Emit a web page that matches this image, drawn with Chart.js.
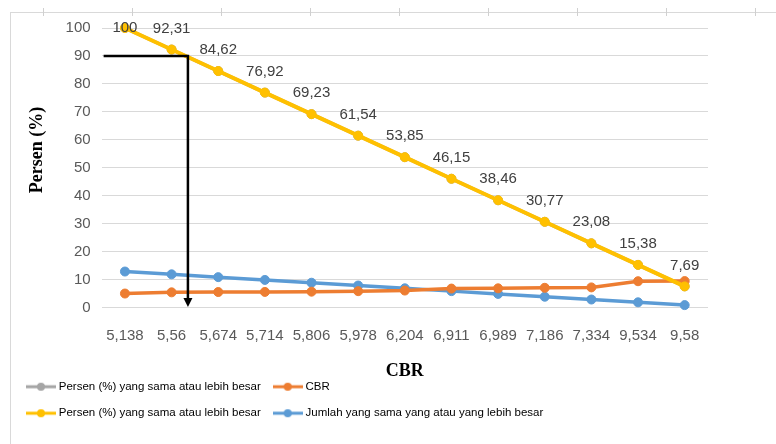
<!DOCTYPE html>
<html>
<head>
<meta charset="utf-8">
<script src="https://cdn.jsdelivr.net/npm/chart.js@4.4.1/dist/chart.umd.min.js"></script>
<style>
  html, body { margin: 0; padding: 0; background: #fff; }
  #wrap { position: relative; width: 776px; height: 444px; overflow: hidden; }
  /* faint frame of the original screenshot */
  #frame { position: absolute; left: 10px; top: 12px; right: 0; bottom: 0;
           border-top: 1px solid #d9d9d9; border-left: 1px solid #d9d9d9; }
  #ticks { position: absolute; left: 0; right: 0; top: 8px; height: 8px;
           background-image: linear-gradient(to right, #d0d0d0 0 1px, transparent 1px);
           background-size: 89px 100%; background-position: 43px 0; background-repeat: repeat-x; }
  canvas { position: absolute; left: 0; top: 0; }
</style>
</head>
<body>
<div id="wrap">
  <div id="frame"></div>
  <div id="ticks"></div>
  <canvas id="chart-cbr" width="776" height="444"></canvas>
</div>
<script>
// ---- Data ----
const cbrLabels = ['5,138','5,56','5,674','5,714','5,806','5,978','6,204','6,911','6,989','7,186','7,334','9,534','9,58'];
const cbrValues = [5.138, 5.56, 5.674, 5.714, 5.806, 5.978, 6.204, 6.911, 6.989, 7.186, 7.334, 9.534, 9.58];
const persenValues = [100, 92.31, 84.62, 76.92, 69.23, 61.54, 53.85, 46.15, 38.46, 30.77, 23.08, 15.38, 7.69];
const jumlahValues = [13, 12, 11, 10, 9, 8, 7, 6, 5, 4, 3, 2, 1];
const yMin = 0, yMax = 100, yStep = 10;

// the 90 % reading arrow (value on y, category position on x)
const arrowPersen = 90;
const arrowIndex = 1.35;

const LABEL_PERSEN = 'Persen (%) yang sama atau lebih besar';

// ---- Fonts / colours ----
const SANS = '"Liberation Sans", sans-serif';
const SERIF = '"Liberation Serif", "Times New Roman", serif';
const TEXT_GREY = '#595959';

Chart.defaults.font.family = SANS;
Chart.defaults.font.size = 15;
Chart.defaults.color = TEXT_GREY;

function legendMarker(color) {
  const c = document.createElement('canvas');
  c.width = 30; c.height = 10;
  const g = c.getContext('2d');
  g.strokeStyle = color; g.lineWidth = 3;
  g.beginPath(); g.moveTo(0, 5); g.lineTo(30, 5); g.stroke();
  g.fillStyle = color;
  g.beginPath(); g.arc(15, 5, 4, 0, Math.PI * 2); g.fill();
  return c;
}

// pad legend text with spaces so "CBR" pushes the next item to row two
function padTo(ctx, text, px) {
  let t = text;
  while (ctx.measureText(t).width < px) t += ' ';
  return t;
}

const LEGEND_FONT = { family: SANS, size: 11.5 };
const legendWidths = [0, 200, 0, 0];

const labelPlugin = {
  id: 'persen-labels',
  afterDatasetsDraw(chart) {
    const meta = chart.getDatasetMeta(2);
    const { ctx, chartArea } = chart;
    ctx.save();
    ctx.font = '15px ' + SANS;
    ctx.fillStyle = '#404040';
    ctx.textAlign = 'center';
    ctx.textBaseline = 'middle';
    meta.data.forEach((pt, i) => {
      const y = Math.max(pt.y - 21, chartArea.top);
      ctx.fillText(String(persenValues[i]).replace('.', ','), pt.x, y);
    });
    ctx.restore();
  }
};

const arrowPlugin = {
  id: 'arrow-90',
  afterDatasetsDraw(chart) {
    const { ctx, chartArea, scales: { x, y } } = chart;
    const ax = x.getPixelForValue(arrowIndex);
    const ay = y.getPixelForValue(arrowPersen);
    const y0 = y.getPixelForValue(yMin);
    ctx.save();
    ctx.strokeStyle = '#000';
    ctx.fillStyle = '#000';
    ctx.lineWidth = 2.5;
    ctx.beginPath();
    ctx.moveTo(chartArea.left + 2, ay);
    ctx.lineTo(ax, ay);
    ctx.lineTo(ax, y0 - 8);
    ctx.stroke();
    ctx.beginPath();
    ctx.moveTo(ax - 4.5, y0 - 10);
    ctx.lineTo(ax + 4.5, y0 - 10);
    ctx.lineTo(ax, y0 - 1);
    ctx.closePath();
    ctx.fill();
    ctx.restore();
  }
};

function line(label, data, color, width, order) {
  return {
    label, data, order,
    borderColor: color,
    backgroundColor: color,
    borderWidth: width,
    pointRadius: 4.5,
    pointBorderWidth: 1,
    pointBackgroundColor: color,
    pointBorderColor: color,
    tension: 0,
    clip: false,
  };
}

new Chart(document.getElementById('chart-cbr'), {
  type: 'line',
  data: {
    labels: cbrLabels,
    datasets: [
      line(LABEL_PERSEN, persenValues, '#A5A5A5', 3.5, 3),
      line('CBR', cbrValues, '#ED7D31', 3.5, 1),
      line(LABEL_PERSEN, persenValues, '#FFC000', 4, 0),
      line('Jumlah yang sama yang atau yang lebih besar', jumlahValues, '#5B9BD5', 3.5, 2),
    ]
  },
  options: {
    responsive: false,
    animation: false,
    layout: { padding: { left: 14, right: 68, top: 28, bottom: 15 } },
    plugins: {
      tooltip: { enabled: false },
      legend: {
        position: 'bottom',
        align: 'start',
        labels: {
          usePointStyle: true,
          pointStyleWidth: 24,
          padding: 15,
          color: TEXT_GREY,
          font: LEGEND_FONT,
          generateLabels(chart) {
            const ctx = chart.ctx;
            ctx.save();
            ctx.font = LEGEND_FONT.size + 'px ' + LEGEND_FONT.family;
            const items = chart.data.datasets.map((ds, i) => ({
              text: padTo(ctx, ds.label, legendWidths[i]),
              fillStyle: ds.borderColor,
              strokeStyle: ds.borderColor,
              lineWidth: 0,
              pointStyle: legendMarker(ds.borderColor),
              hidden: false,
              datasetIndex: i,
            }));
            ctx.restore();
            return items;
          }
        }
      }
    },
    scales: {
      x: {
        offset: true,
        grid: { display: false, drawTicks: false },
        border: { display: false },
        ticks: { padding: 19, maxRotation: 0, autoSkip: false, color: TEXT_GREY },
        title: {
          display: true, text: 'CBR', color: '#000',
          font: { family: SERIF, size: 18, weight: 'bold', lineHeight: 0.81 },
          padding: { top: 0, bottom: -12.5 }
        }
      },
      y: {
        min: yMin, max: yMax,
        grid: { color: '#D9D9D9', drawTicks: false },
        border: { display: false },
        ticks: { stepSize: yStep, padding: 11, color: TEXT_GREY },
        title: {
          display: true, text: '        Persen (%)', color: '#000',
          font: { family: SERIF, size: 18, weight: 'bold' },
          padding: { top: 13, bottom: 6 }
        }
      }
    }
  },
  plugins: [labelPlugin, arrowPlugin]
});
</script>
</body>
</html>
